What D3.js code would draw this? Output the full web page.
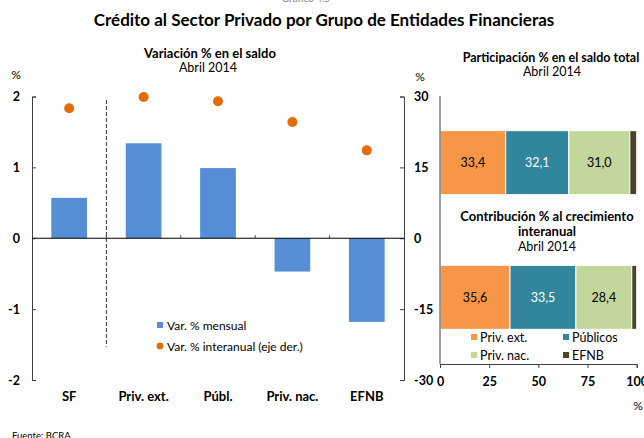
<!DOCTYPE html>
<html>
<head>
<meta charset="utf-8">
<script src="https://cdn.jsdelivr.net/npm/d3@7"></script>
<style>
  body { margin: 0; background: #fff; }
  svg { font-family: Lato, "DejaVu Sans", sans-serif; }
  .bold { font-weight: bold; }
</style>
</head>
<body>
<svg width="644" height="438"></svg>
<script>
// datos
var categories = ["SF", "Priv. ext.", "Públ.", "Priv. nac.", "EFNB"];
var mensual = [0.57, 1.34, 0.99, -0.47, -1.18];      // eje izq.
var interanual = [27.5, 29.9, 29.0, 24.6, 18.6];     // eje der.
var leftTicks = [-2, -1, 0, 1, 2];
var rightTicks = [-30, -15, 0, 15, 30];

var groups = ["Priv. ext.", "Públicos", "Priv. nac.", "EFNB"];
var participacion = [33.4, 32.1, 31.0, 3.5];
var contribucion = [35.6, 33.5, 28.4, 2.5];
var shareTicks = [0, 25, 50, 75, 100];

var colors = ["#F79646", "#31859C", "#C3D69B", "#494429"];
var labelColors = ["#000", "#fff", "#000", "#fff"];

var svg = d3.select("svg");

// titulo general
svg.append("text").attr("x", 306).attr("y", 2).attr("text-anchor", "middle")
  .attr("font-size", 10).attr("fill", "#888").text("Gráfico 4.5");
svg.append("text").attr("class", "bold").attr("x", 324).attr("y", 26)
  .attr("text-anchor", "middle").attr("font-size", 17).text("Crédito al Sector Privado por Grupo de Entidades Financieras");

// ---- grafico izquierdo ----
var x = d3.scaleBand().domain(categories).range([32, 404]).paddingInner(0.52).paddingOuter(0.26);
var yL = d3.scaleLinear().domain([-2, 2]).range([380, 96.5]);
var yR = d3.scaleLinear().domain([-30, 30]).range([380, 96.5]);

svg.append("text").attr("class", "bold").attr("x", 210).attr("y", 58)
  .attr("text-anchor", "middle").attr("font-size", 13).text("Variación % en el saldo");
svg.append("text").attr("x", 208).attr("y", 72)
  .attr("text-anchor", "middle").attr("font-size", 12.5).text("Abril 2014");
svg.append("text").attr("x", 16).attr("y", 79).attr("text-anchor", "middle")
  .attr("font-size", 12).text("%");
svg.append("text").attr("x", 420).attr("y", 81).attr("text-anchor", "middle")
  .attr("font-size", 12).text("%");

var gl = svg.append("g").attr("transform", "translate(32,0)")
  .call(d3.axisLeft(yL).tickValues(leftTicks).tickFormat(String).tickSize(-4).tickSizeOuter(-4).tickPadding(12));
var gr = svg.append("g").attr("transform", "translate(404,0)")
  .call(d3.axisRight(yR).tickValues(rightTicks).tickFormat(String).tickSize(-4).tickSizeOuter(-4).tickPadding(10));
[gl, gr].forEach(function(g) {
  g.selectAll("path, line").attr("stroke", "#404040");
  g.selectAll("text").attr("class", "bold").attr("font-size", 12.5).attr("fill", "#000")
    .attr("font-family", "Lato, sans-serif");
});

svg.selectAll(".bar").data(mensual).enter().append("rect")
  .attr("class", "bar")
  .attr("x", function(d, i) { return x(categories[i]); })
  .attr("width", x.bandwidth())
  .attr("y", function(d) { return yL(Math.max(0, d)); })
  .attr("height", function(d) { return Math.abs(yL(d) - yL(0)); })
  .attr("fill", "#558ED5");

// linea de cero
svg.append("line").attr("x1", 32).attr("x2", 404).attr("y1", yL(0)).attr("y2", yL(0))
  .attr("stroke", "#000").attr("stroke-width", 1.2);
var gap = (x.step() - x.bandwidth()) / 2;
svg.selectAll(".ctick").data(categories.slice(1)).enter().append("line")
  .attr("x1", function(d) { return x(d) - gap; }).attr("x2", function(d) { return x(d) - gap; })
  .attr("y1", yL(0)).attr("y2", yL(0) - 3).attr("stroke", "#404040");

// separador SF / grupos
svg.append("line")
  .attr("x1", x(categories[1]) - gap).attr("x2", x(categories[1]) - gap)
  .attr("y1", yL(1.95)).attr("y2", yL(-1.53))
  .attr("stroke", "#333").attr("stroke-dasharray", "4,2");

svg.selectAll(".dot").data(interanual).enter().append("circle")
  .attr("class", "dot")
  .attr("cx", function(d, i) { return x(categories[i]) + x.bandwidth() / 2; })
  .attr("cy", function(d) { return yR(d); })
  .attr("r", 5).attr("fill", "#E36C09");

svg.selectAll(".cat").data(categories).enter().append("text")
  .attr("class", "bold")
  .attr("x", function(d) { return x(d) + x.bandwidth() / 2; })
  .attr("y", 401).attr("text-anchor", "middle").attr("font-size", 13).text(function(d) { return d; });

// leyenda izq.
svg.append("rect").attr("x", 157).attr("y", 322).attr("width", 6).attr("height", 6).attr("fill", "#558ED5");
svg.append("text").attr("x", 167).attr("y", 329.5).attr("font-size", 12).text("Var. % mensual");
svg.append("circle").attr("cx", 160).attr("cy", 346).attr("r", 3.4).attr("fill", "#E36C09");
svg.append("text").attr("x", 167).attr("y", 350.5).attr("font-size", 12).text("Var. % interanual (eje der.)");

// ---- grafico derecho ----
var xP = d3.scaleLinear().domain([0, 100]).range([440, 636.7]);
var rows = d3.scaleBand().domain(["part", "contrib"]).range([96, 364]).paddingInner(0.525).paddingOuter(0.2575);

svg.append("text").attr("class", "bold").attr("x", 551).attr("y", 62)
  .attr("text-anchor", "middle").attr("font-size", 12.5).text("Participación % en el saldo total");
svg.append("text").attr("x", 552).attr("y", 76)
  .attr("text-anchor", "middle").attr("font-size", 12.5).text("Abril 2014");
svg.append("text").attr("class", "bold").attr("x", 547).attr("y", 221)
  .attr("text-anchor", "middle").attr("font-size", 13).text("Contribución % al crecimiento");
svg.append("text").attr("class", "bold").attr("x", 547).attr("y", 236)
  .attr("text-anchor", "middle").attr("font-size", 13).text("interanual");
svg.append("text").attr("x", 547).attr("y", 251)
  .attr("text-anchor", "middle").attr("font-size", 12.5).text("Abril 2014");

var table = [
  { row: "part", values: participacion },
  { row: "contrib", values: contribucion }
].map(function(r) {
  var o = { row: r.row };
  groups.forEach(function(g, i) { o[g] = r.values[i]; });
  return o;
});
var series = d3.stack().keys(groups)(table);

var fmt = function(v) { return d3.format(".1f")(v).replace(".", ","); };
series.forEach(function(s, i) {
  var g = svg.append("g");
  g.selectAll("rect").data(s).enter().append("rect")
    .attr("x", function(d) { return xP(d[0]); })
    .attr("width", function(d) { return xP(d[1]) - xP(d[0]); })
    .attr("y", function(d) { return rows(d.data.row); })
    .attr("height", rows.bandwidth())
    .attr("fill", colors[i]).attr("stroke", "#fff").attr("stroke-width", 1);
  if (i < 3) {
    g.selectAll("text").data(s).enter().append("text")
      .attr("x", function(d) { return (xP(d[0]) + xP(d[1])) / 2; })
      .attr("y", function(d) { return rows(d.data.row) + rows.bandwidth() / 2 + 4.5; })
      .attr("text-anchor", "middle").attr("font-size", 12.5)
      .attr("fill", labelColors[i]).text(function(d) { return fmt(d[1] - d[0]); });
  }
});

svg.append("line").attr("x1", 440).attr("x2", 440).attr("y1", 96).attr("y2", 364)
  .attr("stroke", "#7f7f7f").attr("stroke-width", 1.5);
var gb = svg.append("g").attr("transform", "translate(0,364)")
  .call(d3.axisBottom(xP).tickValues(shareTicks).tickSize(4).tickSizeOuter(4).tickPadding(9));
gb.selectAll("path, line").attr("stroke", "#404040");
gb.selectAll("text").attr("class", "bold").attr("font-size", 12.5).attr("fill", "#000")
  .attr("font-family", "Lato, sans-serif");
svg.append("text").attr("x", 638).attr("y", 410).attr("text-anchor", "middle")
  .attr("font-size", 12).text("%");

// leyenda der.
var legPos = [[471, 337], [563, 337], [471, 355], [563, 355]];
groups.forEach(function(g, i) {
  svg.append("rect").attr("x", legPos[i][0]).attr("y", legPos[i][1] - 3).attr("width", 6).attr("height", 6)
    .attr("fill", colors[i]);
  svg.append("text").attr("x", legPos[i][0] + 9).attr("y", legPos[i][1] + 4.5)
    .attr("font-size", 12.5).text(g);
});

svg.append("text").attr("x", 12).attr("y", 439).attr("font-size", 9.5).text("Fuente: BCRA");
</script>
</body>
</html>
